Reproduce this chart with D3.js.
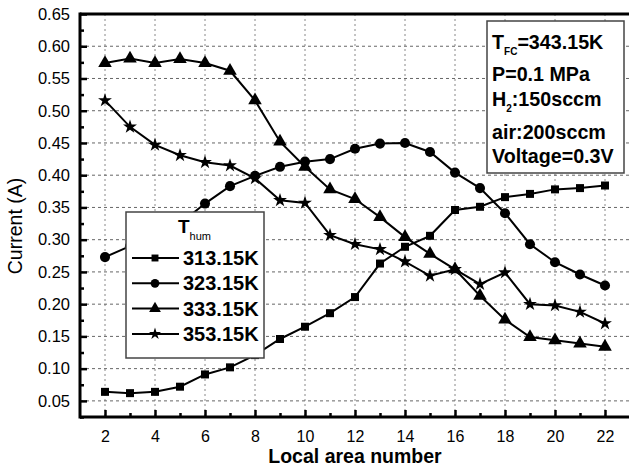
<!DOCTYPE html>
<html>
<head>
<meta charset="utf-8">
<script src="https://cdn.jsdelivr.net/npm/d3@7"></script>
<style>
  body { margin: 0; background: #fff; }
  text { font-family: "Liberation Sans", Arial, sans-serif; fill: #000; }
</style>
</head>
<body>
<div id="my_dataviz"></div>
<script>
// data
var areas = [2, 3, 4, 5, 6, 7, 8, 9, 10, 11, 12, 13, 14, 15, 16, 17, 18, 19, 20, 21, 22];
var cur313 = [0.064, 0.062, 0.064, 0.072, 0.091, 0.102, 0.121, 0.146, 0.165, 0.186, 0.211, 0.263, 0.289, 0.306, 0.346, 0.351, 0.366, 0.371, 0.378, 0.380, 0.384];
var cur323 = [0.273, 0.290, 0.306, 0.325, 0.356, 0.383, 0.399, 0.413, 0.421, 0.425, 0.441, 0.449, 0.450, 0.436, 0.404, 0.380, 0.341, 0.293, 0.265, 0.246, 0.229];
var cur333 = [0.574, 0.581, 0.574, 0.580, 0.574, 0.562, 0.516, 0.452, 0.413, 0.378, 0.363, 0.335, 0.304, 0.278, 0.254, 0.213, 0.176, 0.149, 0.144, 0.139, 0.134];
var cur353 = [0.516, 0.475, 0.447, 0.431, 0.420, 0.415, 0.395, 0.361, 0.357, 0.307, 0.293, 0.285, 0.266, 0.244, 0.254, 0.231, 0.249, 0.200, 0.198, 0.188, 0.170];
var seriesNames = ["313.15K", "323.15K", "333.15K", "353.15K"];
var xTicks = [2, 4, 6, 8, 10, 12, 14, 16, 18, 20, 22];
var yTicks = [0.05, 0.10, 0.15, 0.20, 0.25, 0.30, 0.35, 0.40, 0.45, 0.50, 0.55, 0.60, 0.65];
var infoLines = ["P=0.1 MPa", "air:200sccm", "Voltage=0.3V"];

// set the dimensions and margins of the graph
var margin = {top: 14, right: 0, bottom: 53, left: 80},
    width = 550,
    height = 470 - margin.top - margin.bottom;

var svg = d3.select("#my_dataviz")
  .append("svg")
    .attr("width", 629)
    .attr("height", 470)
  .append("g")
    .attr("transform", "translate(" + margin.left + "," + margin.top + ")");

var x = d3.scaleLinear().domain([1, 23]).range([0, width]);
var y = d3.scaleLinear().domain([0.025, 0.65]).range([height, 0]);

// grid lines
svg.selectAll(".xGrid")
  .data(xTicks)
  .join("line")
  .attr("x1", d => x(d)).attr("x2", d => x(d))
  .attr("y1", 0).attr("y2", height)
  .attr("stroke", "#888").attr("stroke-width", 1)
  .attr("stroke-dasharray", "2,3");

svg.selectAll(".yGrid")
  .data(yTicks)
  .join("line")
  .attr("x1", 0).attr("x2", width)
  .attr("y1", d => y(d)).attr("y2", d => y(d))
  .attr("stroke", "#666").attr("stroke-width", 1)
  .attr("stroke-dasharray", "3,3");

// series
var series = [cur313, cur323, cur333, cur353];
var shapes = [d3.symbolSquare, d3.symbolCircle, d3.symbolTriangle, d3.symbolStar];
var sizes = [64, 80, 80, 60];

var line = d3.line()
  .x((d, i) => x(areas[i]))
  .y(d => y(d));

series.forEach(function(s, k) {
  svg.append("path")
    .datum(s)
    .attr("fill", "none")
    .attr("stroke", "#000")
    .attr("stroke-width", 2)
    .attr("d", line);

  svg.selectAll(".m" + k)
    .data(s)
    .join("path")
    .attr("transform", (d, i) => "translate(" + x(areas[i]) + "," + y(d) + ")")
    .attr("d", d3.symbol().type(shapes[k]).size(sizes[k]))
    .attr("fill", "#000");
});

// axes with inward ticks
var xAxis = svg.append("g")
  .attr("transform", "translate(0," + height + ")")
  .call(d3.axisBottom(x).tickValues(xTicks).tickSizeInner(-7).tickSizeOuter(0).tickPadding(14));
xAxis.select(".domain").remove();
xAxis.selectAll("line").attr("stroke-width", 2.5);
xAxis.selectAll("text").style("font-size", "16px");

svg.append("g")
  .attr("transform", "translate(0," + height + ")")
  .call(d3.axisBottom(x).tickValues(areas.filter(d => d % 2 == 1)).tickSizeInner(-4).tickSizeOuter(0).tickFormat(""))
  .call(g => g.select(".domain").remove())
  .selectAll("line").attr("stroke-width", 2.5);

var yAxis = svg.append("g")
  .call(d3.axisLeft(y).tickValues(yTicks).tickSizeInner(-7).tickSizeOuter(0).tickPadding(10).tickFormat(d3.format(".2f")));
yAxis.select(".domain").remove();
yAxis.selectAll("line").attr("stroke-width", 2.5);
yAxis.selectAll("text").style("font-size", "16.5px");

svg.append("g")
  .call(d3.axisLeft(y).tickValues(yTicks.map(d => d - 0.025)).tickSizeInner(-4).tickSizeOuter(0).tickFormat(""))
  .call(g => g.select(".domain").remove())
  .selectAll("line").attr("stroke-width", 2.5);

// frame
svg.append("line").attr("x1", 0).attr("x2", 0).attr("y1", -1.5).attr("y2", height + 1.5)
  .attr("stroke", "#000").attr("stroke-width", 3);
svg.append("line").attr("x1", 0).attr("x2", width).attr("y1", height).attr("y2", height)
  .attr("stroke", "#000").attr("stroke-width", 3);
svg.append("line").attr("x1", 0).attr("x2", width).attr("y1", 0).attr("y2", 0)
  .attr("stroke", "#000").attr("stroke-width", 3);

// axis titles
svg.append("text")
  .attr("x", x(12)).attr("y", height + 46)
  .attr("text-anchor", "middle")
  .style("font-size", "19.5px").style("font-weight", "bold")
  .text("Local area number");

svg.append("text")
  .attr("transform", "translate(" + (-58) + "," + (212) + ") rotate(-90)")
  .attr("text-anchor", "middle")
  .style("font-size", "19.5px")
  .text("Current (A)");

// legend
var leg = svg.append("g").attr("transform", "translate(46,198)");
leg.append("rect")
  .attr("width", 138).attr("height", 146)
  .attr("fill", "#fff").attr("stroke", "#444").attr("stroke-width", 1.5);
var lt = leg.append("text").attr("x", 52).attr("y", 21)
  .style("font-size", "19px").style("font-weight", "bold");
lt.append("tspan").text("T");
lt.append("tspan").attr("dy", 7).style("font-size", "11px").style("font-weight", "normal").text("hum");

seriesNames.forEach(function(name, k) {
  var row = leg.append("g").attr("transform", "translate(0," + (46 + k * 25.3) + ")");
  row.append("line").attr("x1", 6).attr("x2", 53).attr("y1", 0).attr("y2", 0)
    .attr("stroke", "#000").attr("stroke-width", 2);
  row.append("path")
    .attr("transform", "translate(29,0)")
    .attr("d", d3.symbol().type(shapes[k]).size(sizes[k] * 0.75))
    .attr("fill", "#000");
  row.append("text").attr("x", 57).attr("y", 7)
    .style("font-size", "20px").style("font-weight", "bold")
    .text(name);
});

// info box
var info = svg.append("g").attr("transform", "translate(407,7)");
info.append("rect")
  .attr("width", 137).attr("height", 152)
  .attr("fill", "#fff").attr("stroke", "#444").attr("stroke-width", 1.5);
var t1 = info.append("text").attr("x", 5).attr("y", 27.5)
  .style("font-size", "19.7px").style("font-weight", "bold");
t1.append("tspan").text("T");
t1.append("tspan").attr("dy", 6).style("font-size", "10px").text("FC");
t1.append("tspan").attr("dy", -6).text("=343.15K");

info.append("text").attr("x", 5).attr("y", 59.5)
  .style("font-size", "19.7px").style("font-weight", "bold")
  .text(infoLines[0]);

var t3 = info.append("text").attr("x", 5).attr("y", 85)
  .style("font-size", "19.7px").style("font-weight", "bold");
t3.append("tspan").text("H");
t3.append("tspan").attr("dy", 6).style("font-size", "10px").text("2");
t3.append("tspan").attr("dy", -6).text(":150sccm");

info.append("text").attr("x", 5).attr("y", 118)
  .style("font-size", "19.7px").style("font-weight", "bold")
  .text(infoLines[1]);
info.append("text").attr("x", 5).attr("y", 141.5)
  .style("font-size", "19.7px").style("font-weight", "bold")
  .text(infoLines[2]);
</script>
</body>
</html>
